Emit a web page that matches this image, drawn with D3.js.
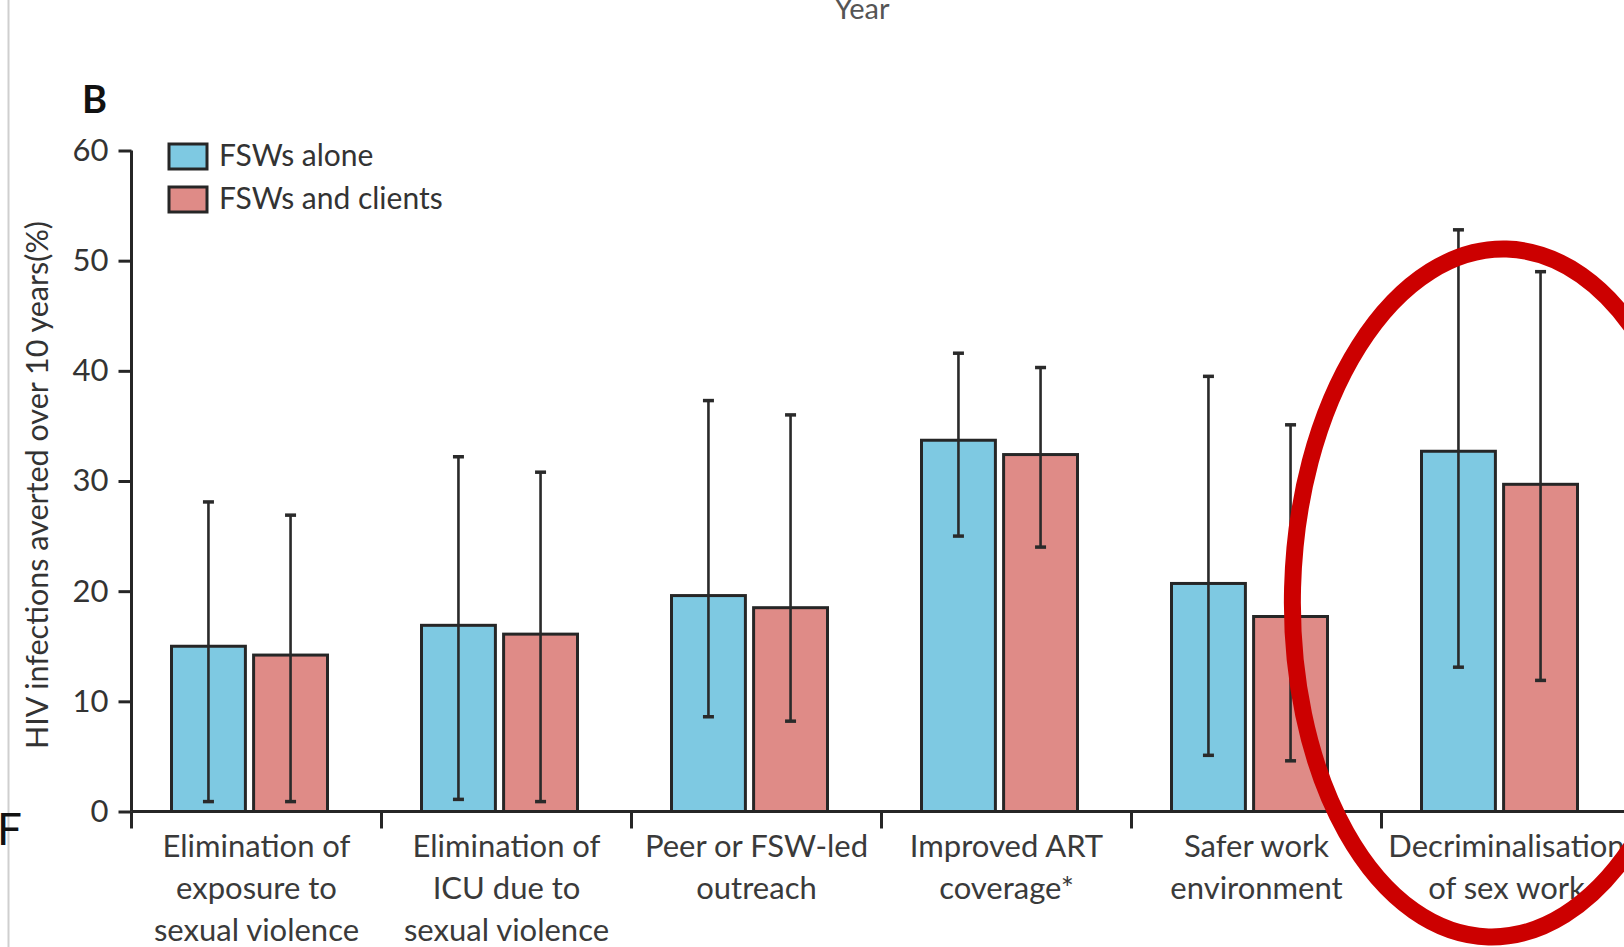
<!DOCTYPE html>
<html>
<head>
<meta charset="utf-8">
<script src="https://cdn.jsdelivr.net/npm/d3@7"></script>
<style>
  html, body { margin: 0; padding: 0; background: #fff; overflow: hidden; }
  svg { display: block; }
  text { font-family: Lato, "Open Sans", sans-serif; }
</style>
</head>
<body>
<svg id="chart" width="1624" height="947"></svg>
<script>
// Interventions (x categories), one label line per array entry
const categories = ["violence", "icu", "peer", "art", "safer", "decrim"];
const categoryLabels = [
  ["Elimination of", "exposure to", "sexual violence"],
  ["Elimination of", "ICU due to", "sexual violence"],
  ["Peer or FSW-led", "outreach"],
  ["Improved ART", "coverage*"],
  ["Safer work", "environment"],
  ["Decriminalisation", "of sex work"]
];

// Series
const seriesNames = ["FSWs alone", "FSWs and clients"];

// % HIV infections averted over 10 years, FSWs alone (median, lower, upper)
const fswAlone     = [15.0, 16.9, 19.6, 33.7, 20.7, 32.7];
const fswAloneLow  = [0.9, 1.1, 8.6, 25.0, 5.1, 13.1];
const fswAloneHigh = [28.1, 32.2, 37.3, 41.6, 39.5, 52.8];

// % HIV infections averted over 10 years, FSWs and clients
const fswClients     = [14.2, 16.1, 18.5, 32.4, 17.7, 29.7];
const fswClientsLow  = [0.9, 0.9, 8.2, 24.0, 4.6, 11.9];
const fswClientsHigh = [26.9, 30.8, 36.0, 40.3, 35.1, 49.0];

// Y axis ticks
const yTicks = [0, 10, 20, 30, 40, 50, 60];

const colors = ["#7ec9e2", "#df8b87"];
const ink = "#262626";

const svg = d3.select("#chart");
const W = 1624, H = 947;

// thin grey frame line at the left edge of the panel
svg.append("line")
  .attr("x1", 8.5).attr("x2", 8.5).attr("y1", 0).attr("y2", H)
  .attr("stroke", "#cfcfcf").attr("stroke-width", 2);

// remnant of the panel above and the panel to the left
svg.append("text").attr("x", 862).attr("y", 19)
  .attr("text-anchor", "middle").attr("font-size", 29).attr("fill", "#555")
  .text("Year");
svg.append("text").attr("x", -3).attr("y", 845)
  .attr("font-size", 44).attr("fill", "#111")
  .text("F");

const x0 = d3.scaleBand().domain(categories).range([131.5, 1631.5]);
const x1 = d3.scaleBand().domain(seriesNames).range([40, 196]).paddingInner(0.1);
const y = d3.scaleLinear().domain([0, 60]).range([811.5, 150.5]);

// panel letter
svg.append("text").attr("x", 82).attr("y", 113)
  .attr("font-size", 38).attr("font-weight", 700).attr("fill", "#111")
  .text("B");

// y axis
const yAxis = svg.append("g").attr("transform", "translate(131.5,0)")
  .call(d3.axisLeft(y).tickValues(yTicks).tickSize(13).tickPadding(10).tickFormat(d3.format("d")));
yAxis.select(".domain").attr("d", `M0,${y(60)}V${y(0)}`)
  .attr("stroke", ink).attr("stroke-width", 3);
yAxis.selectAll(".tick line").attr("stroke", ink).attr("stroke-width", 3);
yAxis.selectAll(".tick text")
  .attr("font-family", "Lato, sans-serif").attr("font-size", 31).attr("fill", "#333");

// y axis title
svg.append("text")
  .attr("transform", `translate(36,${(y(0) + y(60)) / 2 + 4}) rotate(-90)`)
  .attr("text-anchor", "middle").attr("dominant-baseline", "central")
  .attr("font-size", 30.5).attr("fill", "#333")
  .text("HIV infections averted over 10 years(%)");

// x axis: baseline plus boundary ticks between groups
const xg = svg.append("g");
xg.append("line")
  .attr("x1", x0.range()[0]).attr("x2", W)
  .attr("y1", y(0)).attr("y2", y(0))
  .attr("stroke", ink).attr("stroke-width", 3);
xg.selectAll("line.bound")
  .data(categories)
  .join("line").attr("class", "bound")
  .attr("x1", d => x0(d)).attr("x2", d => x0(d))
  .attr("y1", y(0)).attr("y2", y(0) + 17)
  .attr("stroke", ink).attr("stroke-width", 3);

// category labels
const lab = svg.append("g");
categories.forEach((c, i) => {
  const cx = x0(c) + x0.bandwidth() / 2;
  lab.append("text")
    .attr("text-anchor", "middle").attr("font-size", 31).attr("fill", "#3a3a3a")
    .selectAll("tspan").data(categoryLabels[i]).join("tspan")
    .attr("x", cx).attr("y", (d, k) => 857 + k * 42)
    .text(d => d);
});

// bars and error bars
const series = [
  { name: seriesNames[0], v: fswAlone, lo: fswAloneLow, hi: fswAloneHigh, color: colors[0] },
  { name: seriesNames[1], v: fswClients, lo: fswClientsLow, hi: fswClientsHigh, color: colors[1] }
];

const bars = svg.append("g");
series.forEach(s => {
  bars.selectAll(null).data(categories).join("rect")
    .attr("x", d => x0(d) + x1(s.name))
    .attr("y", (d, i) => y(s.v[i]))
    .attr("width", x1.bandwidth())
    .attr("height", (d, i) => y(0) - y(s.v[i]))
    .attr("fill", s.color)
    .attr("stroke", ink).attr("stroke-width", 3);
});

const errs = svg.append("g").attr("stroke", "#2a2a2a");
series.forEach(s => {
  const cxOf = d => x0(d) + x1(s.name) + x1.bandwidth() / 2;
  errs.selectAll(null).data(categories).join("line")
    .attr("x1", cxOf).attr("x2", cxOf)
    .attr("y1", (d, i) => y(s.lo[i])).attr("y2", (d, i) => y(s.hi[i]))
    .attr("stroke-width", 2.6);
  ["lo", "hi"].forEach(k => {
    errs.selectAll(null).data(categories).join("line")
      .attr("x1", d => cxOf(d) - 5.5).attr("x2", d => cxOf(d) + 5.5)
      .attr("y1", (d, i) => y(s[k][i])).attr("y2", (d, i) => y(s[k][i]))
      .attr("stroke-width", 3.5);
  });
});

// legend
const leg = svg.append("g");
series.forEach((s, i) => {
  leg.append("rect")
    .attr("x", 169).attr("y", 144 + i * 43)
    .attr("width", 38).attr("height", 25)
    .attr("fill", s.color).attr("stroke", ink).attr("stroke-width", 3);
  leg.append("text")
    .attr("x", 219).attr("y", 166 + i * 43)
    .attr("font-size", 30).attr("fill", "#333")
    .text(s.name);
});

// highlight ring around the decriminalisation group
const dc = categories[5];
svg.append("ellipse")
  .attr("transform", `translate(${x0(dc) + x0.bandwidth() / 2 - 9},593) rotate(1.5)`)
  .attr("rx", 205).attr("ry", 344)
  .attr("fill", "none").attr("stroke", "#cc0000").attr("stroke-width", 17);
</script>
</body>
</html>
